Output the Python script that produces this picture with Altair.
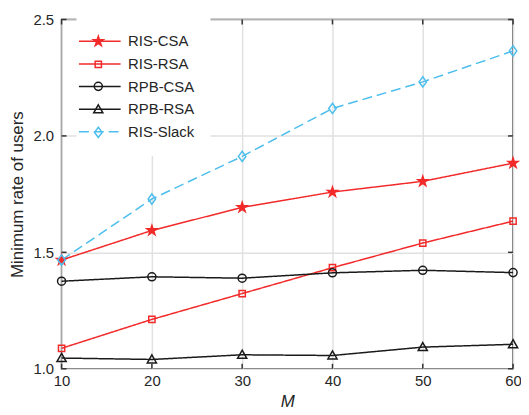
import altair as alt
import pandas as pd

# ---- data ----
M = [10, 20, 30, 40, 50, 60]
ris_csa = [1.467, 1.594, 1.693, 1.759, 1.805, 1.883]
ris_rsa = [1.088, 1.212, 1.323, 1.434, 1.540, 1.634]
rpb_csa = [1.376, 1.395, 1.389, 1.412, 1.423, 1.413]
rpb_rsa = [1.046, 1.040, 1.060, 1.057, 1.093, 1.105]
ris_slack = [1.467, 1.729, 1.912, 2.118, 2.232, 2.365]

names = ["RIS-CSA", "RIS-RSA", "RPB-CSA", "RPB-RSA", "RIS-Slack"]
y_ticks = [1.0, 1.5, 2.0, 2.5]

# ---- styles ----
RED = "#f22a2a"
BLACK = "#1a1a1a"
BLUE = "#4dbeee"
FRAME = "#333333"
TEXT = "#262626"
FONT = "Liberation Sans"

colors = [RED, RED, BLACK, BLACK, BLUE]
fills = [RED, "transparent", "transparent", "transparent", "transparent"]
dashes = [[1, 0], [1, 0], [1, 0], [1, 0], [10, 5]]
STAR = ("M0,-0.74L0.165,-0.229L0.704,-0.229L0.268,0.087L0.435,0.599L0,0.283"
        "L-0.435,0.599L-0.268,0.087L-0.704,-0.229L-0.165,-0.229Z")
SQUARE = "M-0.45,-0.45L0.45,-0.45L0.45,0.45L-0.45,0.45Z"
CIRCLE = "M0.58,0A0.58,0.58,0,1,1,-0.58,0A0.58,0.58,0,1,1,0.58,0Z"
TRI = "M0,-0.66L0.66,0.5L-0.66,0.5Z"
DIAM = "M0,-0.74L0.54,0L0,0.74L-0.54,0Z"
shapes = [STAR, SQUARE, CIRCLE, TRI, DIAM]

W, H = 455, 352

names2 = [n + " " for n in names]  # separate domain for the marker legend
rows = []
for name, name2, vals in zip(names, names2, [ris_csa, ris_rsa, rpb_csa, rpb_rsa, ris_slack]):
    for m, v in zip(M, vals):
        rows.append({"M": m, "rate": v, "series": name, "series2": name2})
df = pd.DataFrame(rows)

xscale = alt.Scale(domain=[10, 60], nice=False, zero=False)
yscale = alt.Scale(domain=[1.0, 2.5], nice=False, zero=False)

x_axis = alt.Axis(values=M, title="M", titleFontStyle="italic", labelPadding=5,
                  titlePadding=5, labelFlush=False, labelOverlap=False)
y_axis = alt.Axis(values=y_ticks, format=".1f", title="Minimum rate of users",
                  labelPadding=8, titlePadding=7, labelFlush=False, labelOverlap=False)

leg1 = alt.Legend(orient="none", legendX=15, legendY=-1.5, title=None,
                  symbolType="M-4.2,0L4.2,0", symbolSize=100, symbolStrokeWidth=1.5,
                  labelFont=FONT, labelFontSize=15, labelColor=TEXT, labelOffset=21,
                  padding=16, fillColor="white", rowPadding=6.8, zindex=1)
leg2 = alt.Legend(orient="none", legendX=29, legendY=14, title=None,
                  labelExpr="''", padding=0, rowPadding=7.2, symbolSize=196,
                  symbolStrokeWidth=1.5, zindex=2)

lines = alt.Chart(df).mark_line(strokeWidth=1.5).encode(
    x=alt.X("M:Q", scale=xscale, axis=x_axis),
    y=alt.Y("rate:Q", scale=yscale, axis=y_axis),
    color=alt.Color("series:N", scale=alt.Scale(domain=names, range=colors), legend=leg1),
    strokeDash=alt.StrokeDash("series:N", scale=alt.Scale(domain=names, range=dashes), legend=leg1),
    detail="series:N",
)

points = alt.Chart(df).mark_point(filled=False, strokeWidth=1.5, size=196, opacity=1).encode(
    x=alt.X("M:Q", scale=xscale),
    y=alt.Y("rate:Q", scale=yscale),
    stroke=alt.Stroke("series2:N", scale=alt.Scale(domain=names2, range=colors), legend=leg2),
    fill=alt.Fill("series2:N", scale=alt.Scale(domain=names2, range=fills), legend=leg2),
    shape=alt.Shape("series2:N", scale=alt.Scale(domain=names2, range=shapes), legend=leg2),
)

xt = pd.DataFrame({"M": M})
yt = pd.DataFrame({"rate": y_ticks})
tick_style = dict(color=FRAME, strokeWidth=1.5)
t_bottom = alt.Chart(xt).mark_rule(**tick_style).encode(
    x=alt.X("M:Q", scale=xscale), y=alt.value(H), y2=alt.value(H - 5))
t_top = alt.Chart(xt).mark_rule(**tick_style).encode(
    x=alt.X("M:Q", scale=xscale), y=alt.value(0), y2=alt.value(5))
t_left = alt.Chart(yt).mark_rule(**tick_style).encode(
    y=alt.Y("rate:Q", scale=yscale), x=alt.value(0), x2=alt.value(5))
t_right = alt.Chart(yt).mark_rule(**tick_style).encode(
    y=alt.Y("rate:Q", scale=yscale), x=alt.value(W), x2=alt.value(W - 5))

chart = alt.layer(lines, points, t_bottom, t_top, t_left, t_right).properties(
    width=W, height=H,
    autosize=alt.AutoSizeParams(type="none"),
    padding={"left": 54, "top": 10, "right": 8, "bottom": 44},
).configure_view(
    stroke=FRAME, strokeWidth=1.5
).configure_axis(
    domain=False, ticks=False, grid=True, gridColor="#e1e1e1", gridWidth=1.5,
    labelFont=FONT, labelFontSize=15, labelColor=TEXT,
    titleFont=FONT, titleFontSize=17, titleColor=TEXT, titleFontWeight="normal",
)

chart.save("out.html", embed_options={"renderer": "svg", "actions": False})
